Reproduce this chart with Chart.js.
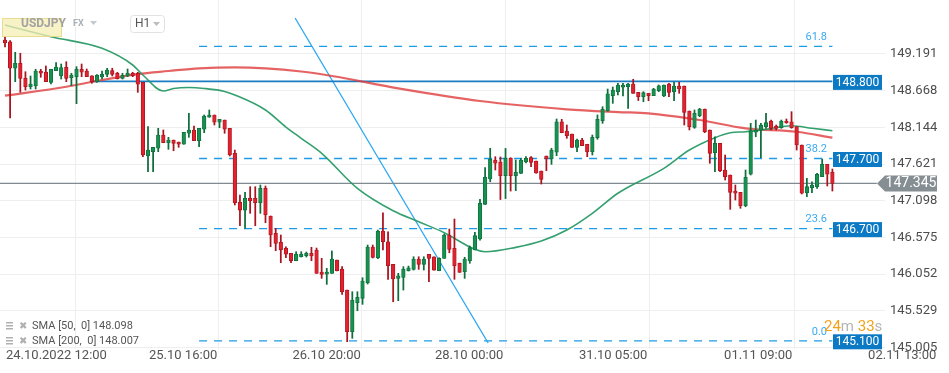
<!DOCTYPE html>
<html>
<head>
<meta charset="utf-8">
<script src="https://cdn.jsdelivr.net/npm/chart.js@4.4.1/dist/chart.umd.min.js"></script>
<style>
  html, body { margin: 0; padding: 0; background: #fff; }
</style>
</head>
<body>
<canvas id="myChart" width="949" height="373"></canvas>
<script>
// USDJPY H1 candles, 24.10.2022 12:00 onwards (one entry per hour)
let opens = [
  149.391, 149.366, 148.987, 149.058, 148.844, 148.724, 148.739, 148.948, 148.934, 148.787,
  148.953, 148.877, 149.001, 148.853, 148.867, 148.973, 148.948, 148.881, 148.796, 148.867,
  148.901, 148.953, 148.916, 148.844, 148.881, 148.916, 148.916, 148.787, 147.740, 147.797,
  147.846, 148.035, 147.925, 147.964, 147.935, 147.903, 148.060, 148.107, 147.954, 148.117,
  148.288, 148.321, 148.217, 148.249, 148.131, 147.774, 147.075, 146.965, 147.132, 147.132,
  147.069, 147.275, 146.880, 146.633, 146.505, 146.419, 146.348, 146.242, 146.299, 146.316,
  146.348, 146.395, 146.081, 146.052, 146.062, 146.252, 146.124, 145.824, 145.229, 145.643,
  145.706, 145.928, 146.438, 146.285, 146.666, 146.513, 146.191, 145.991, 146.005, 146.099,
  146.119, 146.267, 146.191, 146.334, 146.299, 146.099, 146.276, 146.609, 146.419, 146.205,
  146.086, 146.242, 146.395, 146.552, 147.047, 147.408, 147.679, 147.650, 147.455, 147.707,
  147.455, 147.489, 147.650, 147.712, 147.664, 147.522, 147.736, 147.693, 147.789, 148.225,
  148.092, 148.050, 147.860, 147.964, 147.903, 147.797, 147.999, 148.239, 148.378, 148.596,
  148.653, 148.716, 148.724, 148.763, 148.644, 148.582, 148.630, 148.596, 148.667, 148.592,
  148.763, 148.653, 148.734, 148.734, 148.378, 148.145, 148.311, 148.406, 148.107, 147.783,
  147.917, 147.536, 147.465, 147.236, 147.218, 147.027, 147.475, 148.074, 148.107, 148.154,
  148.235, 148.164, 148.139, 148.235, 148.225, 148.154, 147.893, 147.212, 147.284, 147.298,
  147.441, 147.617, 147.503
];
let highs = [
  149.433, 149.381, 149.215, 149.201, 148.938, 148.877, 148.973, 148.973, 149.020, 148.973,
  149.067, 149.048, 149.081, 148.916, 149.010, 149.048, 148.977, 148.881, 148.896, 148.948,
  148.987, 148.987, 148.930, 148.916, 148.977, 148.930, 148.930, 148.787, 148.154, 147.860,
  148.131, 148.107, 148.002, 147.964, 147.935, 148.074, 148.345, 148.164, 148.131, 148.321,
  148.392, 148.321, 148.259, 148.249, 148.131, 147.821, 147.179, 147.218, 147.298, 147.298,
  147.322, 147.308, 146.880, 146.704, 146.609, 146.442, 146.348, 146.371, 146.371, 146.366,
  146.434, 146.423, 146.276, 146.134, 146.381, 146.252, 146.157, 145.824, 145.800, 145.800,
  146.000, 146.466, 146.466, 146.680, 146.927, 146.656, 146.191, 146.062, 146.157, 146.166,
  146.299, 146.299, 146.299, 146.334, 146.299, 146.285, 146.623, 146.694, 146.837, 146.209,
  146.291, 146.452, 146.647, 147.118, 147.569, 147.846, 147.726, 147.722, 147.843, 147.712,
  147.679, 147.700, 147.726, 147.726, 147.664, 147.522, 147.736, 147.846, 148.264, 148.259,
  148.178, 148.050, 147.978, 147.988, 147.903, 148.035, 148.321, 148.439, 148.691, 148.720,
  148.773, 148.773, 148.773, 148.830, 148.644, 148.653, 148.630, 148.701, 148.749, 148.749,
  148.773, 148.787, 148.787, 148.734, 148.378, 148.392, 148.416, 148.406, 148.107, 148.011,
  147.917, 147.750, 147.465, 147.322, 147.218, 147.536, 148.202, 148.249, 148.202, 148.345,
  148.249, 148.178, 148.249, 148.264, 148.368, 148.154, 147.893, 147.418, 147.369, 147.489,
  147.693, 147.617, 147.550
];
let lows = [
  149.291, 148.278, 148.796, 148.644, 148.677, 148.691, 148.691, 148.859, 148.796, 148.763,
  148.953, 148.834, 148.796, 148.739, 148.482, 148.867, 148.867, 148.773, 148.787, 148.834,
  148.867, 148.877, 148.834, 148.834, 148.867, 148.867, 148.644, 147.726, 147.512, 147.512,
  147.797, 147.925, 147.831, 147.811, 147.860, 147.903, 148.002, 147.954, 147.868, 148.068,
  148.288, 148.178, 148.139, 148.060, 147.736, 147.037, 146.741, 146.704, 146.918, 146.741,
  146.918, 146.784, 146.442, 146.385, 146.214, 146.285, 146.214, 146.242, 146.295, 146.295,
  146.242, 146.062, 145.991, 145.905, 146.062, 146.095, 145.763, 145.087, 145.135, 145.529,
  145.620, 145.910, 146.281, 146.271, 146.395, 145.977, 145.657, 145.672, 145.824, 146.095,
  146.109, 146.119, 146.109, 145.943, 146.109, 146.099, 146.276, 146.356, 145.977, 146.077,
  145.991, 146.205, 146.395, 146.537, 147.047, 147.369, 147.536, 147.115, 147.129, 147.236,
  147.241, 147.486, 147.636, 147.583, 147.489, 147.336, 147.526, 147.617, 147.740, 148.068,
  147.988, 147.860, 147.797, 147.883, 147.726, 147.750, 147.974, 148.202, 148.373, 148.487,
  148.606, 148.592, 148.416, 148.630, 148.527, 148.510, 148.524, 148.596, 148.653, 148.582,
  148.582, 148.524, 148.630, 148.178, 148.107, 148.131, 148.296, 148.068, 147.632, 147.512,
  147.512, 147.393, 146.975, 147.108, 146.990, 147.012, 147.465, 148.011, 147.712, 148.131,
  148.107, 148.107, 148.131, 148.202, 148.131, 147.821, 147.194, 147.155, 147.212, 147.275,
  147.441, 147.308, 147.236
];
let closes = [
  149.348, 148.987, 149.058, 148.844, 148.724, 148.763, 148.948, 148.916, 148.796, 148.973,
  149.005, 148.996, 148.844, 148.891, 148.973, 148.930, 148.867, 148.796, 148.887, 148.901,
  148.963, 148.901, 148.838, 148.887, 148.920, 148.881, 148.759, 147.750, 147.821, 147.860,
  148.035, 147.925, 147.964, 147.917, 147.903, 148.074, 148.107, 147.954, 148.131, 148.306,
  148.321, 148.217, 148.259, 148.117, 147.750, 147.069, 146.965, 147.132, 147.098, 147.069,
  147.275, 146.894, 146.609, 146.490, 146.395, 146.334, 146.242, 146.338, 146.334, 146.348,
  146.309, 146.062, 146.048, 146.081, 146.267, 146.099, 145.800, 145.229, 145.682, 145.720,
  145.953, 146.438, 146.291, 146.666, 146.513, 146.171, 145.981, 146.028, 146.119, 146.142,
  146.267, 146.191, 146.267, 146.276, 146.109, 146.276, 146.609, 146.405, 146.171, 146.077,
  146.267, 146.428, 146.599, 147.061, 147.432, 147.689, 147.632, 147.455, 147.707, 147.455,
  147.503, 147.679, 147.703, 147.643, 147.493, 147.403, 147.693, 147.821, 148.225, 148.068,
  148.025, 147.860, 147.964, 147.883, 147.793, 148.002, 148.259, 148.402, 148.624, 148.677,
  148.749, 148.749, 148.763, 148.630, 148.582, 148.639, 148.596, 148.691, 148.737, 148.749,
  148.644, 148.734, 148.691, 148.359, 148.154, 148.345, 148.406, 148.082, 147.774, 147.917,
  147.526, 147.441, 147.218, 147.204, 147.027, 147.432, 148.097, 148.107, 148.178, 148.211,
  148.131, 148.131, 148.235, 148.211, 148.139, 147.893, 147.204, 147.298, 147.322, 147.475,
  147.617, 147.475, 147.345
];

// moving averages at these candle numbers
let sma50Index = [0, 9, 19, 25, 27, 31, 33, 36, 39, 43, 45, 51, 55, 58, 62, 69, 76, 81, 86, 92,
  94, 100, 105, 110, 115, 120, 129, 134, 139, 142, 145, 149, 154, 158, 162];
let sma50 = [149.604, 149.437, 149.272, 149.034, 148.891, 148.663, 148.699, 148.713, 148.699, 148.656,
  148.606, 148.392, 148.149, 147.988, 147.774, 147.275, 146.955, 146.798, 146.642, 146.405,
  146.370, 146.433, 146.523, 146.680, 146.918, 147.204, 147.560, 147.821, 147.997, 148.068,
  148.082, 148.117, 148.168, 148.131, 148.097];
let sma200Index = [0, 12, 19, 26, 32, 38, 45, 51, 58, 64, 77, 93, 110, 120, 126, 136, 145, 155, 162];
let sma200 = [148.596, 148.724, 148.820, 148.905, 148.948, 148.987, 149.001, 148.987, 148.941, 148.877,
  148.701, 148.520, 148.402, 148.363, 148.345, 148.249, 148.131, 148.082, 147.997];

// fibonacci levels and the horizontal line
let fibNames = ['61.8', '38.2', '23.6', '0.0'];
let fibLevels = [149.300, 147.700, 146.700, 145.100];
let fibStart = 38;
let levelLine = 148.800;
let levelStart = 17;
let lastPrice = 147.345;
let trendIndex = [56.8, 94.6];
let trendPrice = [149.704, 145.068];

// axis ticks
let priceTicks = [145.005, 145.529, 146.052, 146.575, 147.098, 147.621, 148.144, 148.668, 149.191];
let timeTickIndex = [-0.2, 27.8, 55.9, 83.8, 112.0, 140.4, 168.6];
let timeLabels = ['24.10.2022 12:00', '25.10 16:00', '26.10 20:00', '28.10 00:00',
  '31.10 05:00', '01.11 09:00', '02.11 13:00'];

let xMin = -0.98, xMax = 172.3;
let yMin = 144.983, yMax = 149.961;
let lastIndex = closes.length - 1;

const UP = '#17914f', UP_DARK = '#0f6e3b';
const DOWN = '#e2232f', DOWN_DARK = '#a8141f';
const FIB = '#1f9ae6';

Chart.defaults.font.family = 'Roboto';

function isUp(i) { return closes[i] >= opens[i]; }

function hLine(value, from, to, color, width, dash, order) {
  return {
    type: 'line', data: [{ x: from, y: value }, { x: to, y: value }],
    borderColor: color, borderWidth: width, borderDash: dash || [],
    pointRadius: 0, order: order
  };
}

let datasets = [
  {
    type: 'bar', order: 0, grouped: false,
    data: opens.map((o, i) => ({ x: i, y: [o, closes[i]] })),
    backgroundColor: opens.map((o, i) => isUp(i) ? UP : DOWN),
    borderColor: opens.map((o, i) => isUp(i) ? UP_DARK : DOWN_DARK),
    borderWidth: 0.8, borderSkipped: false, barThickness: 3.6, minBarLength: 1.2
  },
  {
    type: 'bar', order: 1, grouped: false,
    data: lows.map((l, i) => ({ x: i, y: [l, highs[i]] })),
    backgroundColor: opens.map((o, i) => isUp(i) ? UP_DARK : DOWN_DARK),
    barThickness: 1.1
  },
  {
    type: 'line', order: 2,
    data: sma50Index.map((x, k) => ({ x: x, y: sma50[k] })),
    borderColor: 'rgba(31,150,95,0.9)', borderWidth: 1.6,
    pointRadius: 0, cubicInterpolationMode: 'monotone'
  },
  {
    type: 'line', order: 3,
    data: sma200Index.map((x, k) => ({ x: x, y: sma200[k] })),
    borderColor: 'rgba(222,60,60,0.8)', borderWidth: 2.2,
    pointRadius: 0, cubicInterpolationMode: 'monotone'
  },
  hLine(levelLine, levelStart, lastIndex, '#1a7cc2', 1.6, null, 4),
  hLine(lastPrice, xMin, 170.7, '#7f8b90', 1.3, null, 5),
  {
    type: 'line', order: 6,
    data: trendIndex.map((x, k) => ({ x: x, y: trendPrice[k] })),
    borderColor: '#2aa6f2', borderWidth: 1.3, pointRadius: 0
  }
];
fibLevels.forEach((v, k) => datasets.push(hLine(v, fibStart, lastIndex, FIB, 1.3, [8, 7], 7 + k)));

// ---- text and labels drawn on top of the plot ----
function priceBox(c, text, yPix, x, w, bg) {
  c.fillStyle = bg;
  c.fillRect(x, yPix - 7.5, w, 15);
  c.fillStyle = '#fff';
  c.font = '12px Roboto';
  c.textAlign = 'center';
  c.textBaseline = 'middle';
  c.fillText(text, x + w / 2, yPix + 0.5);
}

function triangle(c, x, y, color) {
  c.fillStyle = color;
  c.beginPath();
  c.moveTo(x, y); c.lineTo(x + 7, y); c.lineTo(x + 3.5, y + 4);
  c.closePath(); c.fill();
}

const overlay = {
  id: 'overlay',
  afterDraw(chart) {
    const c = chart.ctx;
    const ys = chart.scales.y;
    c.save();

    // level boxes on the right
    priceBox(c, levelLine.toFixed(3), ys.getPixelForValue(levelLine) + 1, 833, 49, '#0b79c3');
    for (let k = 1; k < fibLevels.length; k++) {
      priceBox(c, fibLevels[k].toFixed(3), ys.getPixelForValue(fibLevels[k]) + 1, 833, 49, '#0b79c3');
    }
    // fib names
    c.font = '11px Roboto';
    c.fillStyle = '#3aa9f0';
    c.textAlign = 'right';
    c.textBaseline = 'middle';
    fibLevels.forEach((v, k) => c.fillText(fibNames[k], 827, ys.getPixelForValue(v) - 9));

    // last price tag
    let py = ys.getPixelForValue(lastPrice);
    c.fillStyle = '#858e93';
    c.beginPath();
    c.moveTo(877, py);
    c.lineTo(885, py - 8); c.lineTo(937, py - 8);
    c.lineTo(937, py + 8); c.lineTo(885, py + 8);
    c.closePath(); c.fill();
    c.fillStyle = '#fff';
    c.font = '14px Roboto';
    c.textAlign = 'center';
    c.fillText(lastPrice.toFixed(3), 911, py + 0.5);

    // countdown
    c.textAlign = 'left';
    c.font = '15px Roboto';
    let cx = 824;
    [['24', '#f5a21b'], ['m ', '#b5b5b5'], ['33', '#f5a21b'], ['s', '#b5b5b5']].forEach(p => {
      c.fillStyle = p[1];
      c.fillText(p[0], cx, 327);
      cx += c.measureText(p[0]).width;
    });

    // indicator legend
    [['SMA [50,  0] 148.098', 326], ['SMA [200,  0] 148.007', 341]].forEach(r => {
      c.fillStyle = '#b0b0b0';
      c.fillRect(6, r[1] - 4, 7, 1.5);
      c.fillRect(6, r[1] - 1, 7, 1.5);
      c.fillRect(6, r[1] + 2, 7, 1.5);
      c.font = 'bold 10px DejaVu Sans';
      c.fillText('\u2716', 19, r[1]);
      c.fillStyle = '#555';
      c.font = '11px Roboto';
      c.fillText(r[0], 32, r[1]);
    });

    // symbol header
    c.fillStyle = 'rgba(246,238,180,0.75)';
    c.fillRect(2, 18, 60, 19);
    c.strokeStyle = 'rgba(230,215,130,0.8)';
    c.lineWidth = 1;
    c.strokeRect(2.5, 18.5, 59, 18);
    c.fillStyle = '#a2a2a2';
    c.font = 'bold 12px Roboto';
    c.fillText('USDJPY', 21, 24);
    c.fillStyle = '#a9b1b9';
    c.font = 'bold 9px Roboto';
    c.fillText('FX', 73, 24);
    triangle(c, 90, 21, '#c4c8cc');
    c.strokeStyle = '#e2e2e2';
    c.fillStyle = '#fff';
    c.beginPath();
    c.roundRect(130.5, 15.5, 34, 17, 3);
    c.fill(); c.stroke();
    c.fillStyle = '#555';
    c.font = '12px Roboto';
    c.fillText('H1', 135, 24);
    triangle(c, 153, 22, '#bcbcbc');

    c.restore();
  }
};

var ctx = document.getElementById('myChart').getContext('2d');
var chart = new Chart(ctx, {
  type: 'bar',
  data: { datasets: datasets },
  plugins: [overlay],
  options: {
    responsive: false,
    animation: false,
    layout: { padding: 0 },
    plugins: { legend: { display: false }, tooltip: { enabled: false } },
    scales: {
      x: {
        type: 'linear', min: xMin, max: xMax, offset: false,
        border: { display: false },
        grid: { color: '#eeeeee', drawTicks: false },
        ticks: {
          align: 'start', padding: 0, labelOffset: 2, maxRotation: 0, autoSkip: false,
          color: '#555', font: { size: 13, lineHeight: 1 },
          callback: (v, i) => timeLabels[i]
        },
        afterBuildTicks: s => { s.ticks = timeTickIndex.map(v => ({ value: v })); },
        afterFit: s => { s.height = 24; s.paddingLeft = 0; s.paddingRight = 0; }
      },
      y: {
        position: 'right', min: yMin, max: yMax,
        border: { display: false },
        grid: { color: '#eeeeee', drawTicks: false },
        ticks: {
          padding: 5, color: '#4d4d4d', font: { size: 13 },
          callback: v => v.toFixed(3)
        },
        afterBuildTicks: s => { s.ticks = priceTicks.map(v => ({ value: v })); },
        afterFit: s => { s.width = 64; s.paddingTop = 0; s.paddingBottom = 0; }
      }
    }
  }
});
</script>
</body>
</html>
